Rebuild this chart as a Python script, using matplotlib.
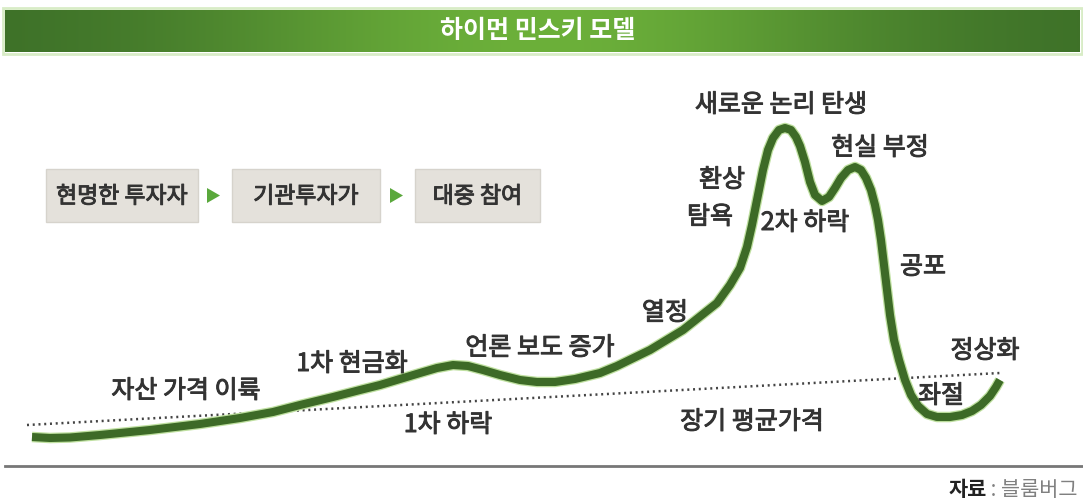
import matplotlib
matplotlib.use("Agg")
import numpy as np
import matplotlib.pyplot as plt
from matplotlib.patches import Rectangle, Polygon
import matplotlib.patheffects as pe

plt.rcParams['font.family'] = ['Noto Sans CJK KR', 'DejaVu Sans']

# ---------------- data ----------------
title = "하이먼 민스키 모델"
stage_boxes = ["현명한 투자자", "기관투자가", "대중 참여"]
source_head = "자료"
source_body = " : 블룸버그"

# price path (time axis, price level; screen-like units, y grows downward)
time = [32, 50, 70, 100, 150, 200, 240, 273, 300, 333, 360, 380, 400, 420, 437,
        453, 468, 483, 500, 520, 537, 555, 575, 600, 617, 650, 683, 717, 730,
        740, 747, 752, 757, 763, 768, 773, 779, 785, 791, 796, 800, 805, 810,
        815, 822, 829, 835, 841, 848, 855, 861, 866, 871, 875, 878, 881, 884,
        887, 890, 894, 899, 905, 911, 918, 927, 937, 950, 962, 972, 981, 990,
        996, 1000]
price = [437, 438, 437.5, 435, 430, 424, 418, 412, 405, 397, 390, 385, 379, 373,
         368, 365, 366, 370, 375, 380, 382, 382, 379, 373, 366, 350, 330, 303,
         285, 268, 247, 225, 200, 170, 150, 138, 130, 128, 130, 137, 146, 162,
         182, 195, 201, 197, 188, 178, 170, 167, 170, 178, 190, 205, 220, 240,
         265, 290, 315, 340, 360, 380, 395, 406, 414, 417, 417, 415, 411, 405,
         396, 387, 380]

# long-term average price (dotted)
avg_time = [27, 1000]
avg_price = [425, 373]

# stage labels
labels = ["자산 가격 이륙", "1차 현금화", "1차 하락", "언론 보도 증가", "열정",
          "환상", "탐욕", "새로운 논리 탄생", "2차 하락", "현실 부정", "공포",
          "장기 평균가격", "좌절", "정상화"]

# ---------------- layout ----------------
label_pos = [(186, 391), (352, 364), (448, 425), (540, 348), (665, 313),
             (722, 180), (710, 217), (781, 105), (805, 223), (880, 148),
             (923, 267), (752, 422), (941, 396), (985, 351)]
box_spans = [(46, 198), (232, 380), (415, 540)]
box_top, box_bot = 169, 222
arrow_x = [213, 396]

W, H = 1083, 501
fig = plt.figure(figsize=(W / 100, H / 100), dpi=100)
ax = fig.add_axes([0, 0, 1, 1])
ax.set_xlim(0, W)
ax.set_ylim(H, 0)
ax.axis('off')

heavy = [pe.withStroke(linewidth=0.7, foreground='#333333')]

# title bar with horizontal gradient
dark = np.array([0x3a, 0x6c, 0x27]) / 255
light = np.array([0x6c, 0xb0, 0x3a]) / 255
u = np.linspace(0, 1, 400)
w = np.exp(-((u - 0.5) / 0.32) ** 2)
grad = dark[None, :] * (1 - w[:, None]) + light[None, :] * w[:, None]
ax.imshow(grad[None, :, :], extent=(5, 1080, 52, 10), aspect='auto', zorder=1,
          interpolation='bilinear')
ax.add_patch(Rectangle((3, 8), 1079, 46, facecolor='none', edgecolor='#d8ecc6',
                       lw=2, zorder=0.5))
ax.text(538, 31, title, color='white', fontsize=18, fontweight='bold',
        ha='center', va='center', zorder=2)

# stage boxes
for (x0, x1), txt in zip(box_spans, stage_boxes):
    ax.add_patch(Rectangle((x0, box_top), x1 - x0, box_bot - box_top,
                           facecolor='#e4e1db', edgecolor='#d6d3cc', lw=1, zorder=1))
    ax.text((x0 + x1) / 2, (box_top + box_bot) / 2 + 1, txt, color='#333333',
            fontsize=16.5, ha='center', va='center', zorder=2, path_effects=heavy)
for xa in arrow_x:
    ax.add_patch(Polygon([(xa - 6, 188), (xa - 6, 203), (xa + 7, 195.5)],
                         closed=True, facecolor='#5aa83c', edgecolor='none', zorder=2))

# long-term average dotted line
ax.plot(avg_time, avg_price, color='#444444', lw=1.8, linestyle=(0, (0.8, 1.5)),
        zorder=2)

# price curve
ax.plot(time, price, color='#3d6a27', lw=5.8, solid_capstyle='butt',
        solid_joinstyle='round', zorder=3,
        path_effects=[pe.Stroke(linewidth=7.6, foreground='#bfe0a0'), pe.Normal()])

# labels
for txt, (x, y) in zip(labels, label_pos):
    ax.text(x, y, txt, color='#333333', fontsize=18, ha='center', va='center',
            zorder=4, path_effects=heavy)

# bottom rule and source
ax.plot([5, 1083], [466, 466], color='#777777', lw=2, zorder=1)
t_body = ax.text(1078, 490, source_body, color='#808080', fontsize=15,
                 ha='right', va='center', zorder=2)
fig.canvas.draw()
bb = t_body.get_window_extent()
x_left = ax.transData.inverted().transform((bb.x0, bb.y0))[0]
ax.text(x_left, 490, source_head, color='#222222', fontsize=15, fontweight='bold',
        ha='right', va='center', zorder=2)

fig.savefig('out.png', dpi=100)
